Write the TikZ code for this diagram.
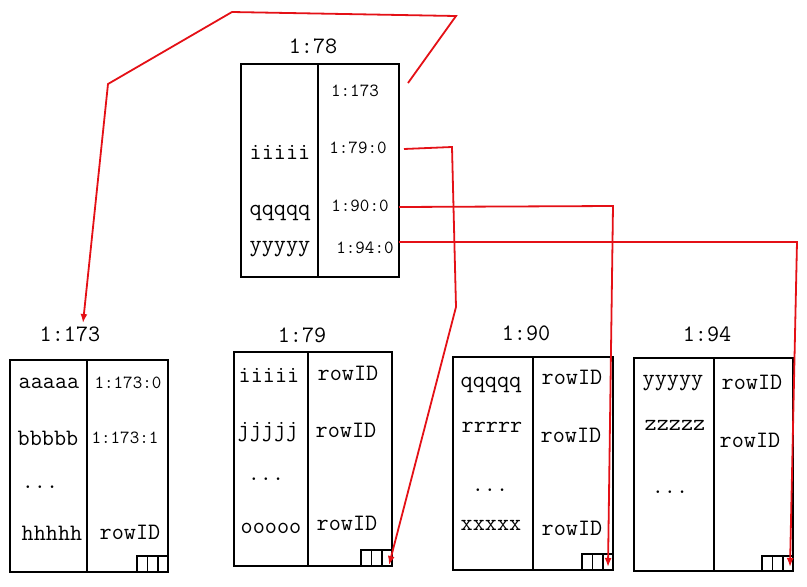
\documentclass[tikz,border=0pt]{standalone}
\usepackage{fontspec}
\usetikzlibrary{arrows.meta}
\definecolor{linkred}{RGB}{228,16,22}
\begin{document}
\begin{tikzpicture}[x=1pt,y=-1pt,
  box/.style={draw, line width=2pt, inner sep=0pt, outer sep=0pt, anchor=north west},
  divider/.style={line width=1.7pt},
  cell/.style={line width=1.7pt},
  big/.style={font=\ttfamily\fontsize{23.5}{25}\selectfont, inner sep=0pt},
  small/.style={font=\ttfamily\fontsize{18.5}{20}\selectfont, inner sep=0pt},
  link/.style={draw=linkred, line width=1.8pt, -{Latex[length=9pt,width=7pt]}, fill=none},
]
\useasboundingbox (0,0) rectangle (807,587);

% ---------- top page 1:78 ----------
\node[box, minimum width=158pt, minimum height=213pt] (b78) at (241,64) {};
\draw[divider] ([xshift=77pt]b78.north west) -- ([xshift=77pt]b78.south west);
\node[big] (lab78) at (313,46) {1:78};
\node[big] (k78a) at (280,152) {iiiii};
\node[big] (k78b) at (280,213) {qqqqq};
\node[big] (k78c) at (280,249) {yyyyy};
\node[small] (p78a) at (355,91) {1:173};
\node[small] (p78b) at (358,148) {1:79:0};
\node[small] (p78c) at (360,206) {1:90:0};
\node[small] (p78d) at (365,248) {1:94:0};

% ---------- page 1:173 ----------
\node[box, minimum width=158pt, minimum height=212pt] (b173) at (10,360) {};
\draw[divider] ([xshift=77pt]b173.north west) -- ([xshift=77pt]b173.south west);
\node[big] (lab173) at (70,334) {1:173};
\node[big] (k173a) at (49,383) {aaaaa};
\node[big] (k173b) at (48,438) {bbbbb};
\node[big] (k173c) at (40,487) {...};
\node[big] (k173d) at (52,533) {hhhhh};
\node[small] (p173a) at (128,383) {1:173:0};
\node[small] (p173b) at (125,438) {1:173:1};
\node[big] (p173c) at (130,532) {rowID};
\foreach \i in {0,1,2}
  \draw[cell] ([xshift=-\i*10.3pt]b173.south east) rectangle ++(-10.3,-16);

% ---------- page 1:79 ----------
\node[box, minimum width=158pt, minimum height=214pt] (b79) at (234,352) {};
\draw[divider] ([xshift=74pt]b79.north west) -- ([xshift=74pt]b79.south west);
\node[big] (lab79) at (302,335) {1:79};
\node[big] (k79a) at (269,375) {iiiii};
\node[big] (k79b) at (268,432) {jjjjj};
\node[big] (k79c) at (266,479) {...};
\node[big] (k79d) at (271,528) {ooooo};
\node[big] (p79a) at (348,373) {rowID};
\node[big] (p79b) at (346,430) {rowID};
\node[big] (p79c) at (347,523) {rowID};
\foreach \i in {0,1,2}
  \draw[cell] ([xshift=-\i*10.3pt]b79.south east) rectangle ++(-10.3,-16);

% ---------- page 1:90 ----------
\node[box, minimum width=160pt, minimum height=213pt] (b90) at (453,357) {};
\draw[divider] ([xshift=80pt]b90.north west) -- ([xshift=80pt]b90.south west);
\node[big] (lab90) at (526,333) {1:90};
\node[big] (k90a) at (491,385) {qqqqq};
\node[big] (k90b) at (492,427) {rrrrr};
\node[big] (k90c) at (490,490) {...};
\node[big] (k90d) at (491,525) {xxxxx};
\node[big] (p90a) at (572,377) {rowID};
\node[big] (p90b) at (571,435) {rowID};
\node[big] (p90c) at (572,528) {rowID};
\foreach \i in {0,1,2}
  \draw[cell] ([xshift=-\i*10.3pt]b90.south east) rectangle ++(-10.3,-16);

% ---------- page 1:94 ----------
\node[box, minimum width=159pt, minimum height=213pt] (b94) at (634,358) {};
\draw[divider] ([xshift=80pt]b94.north west) -- ([xshift=80pt]b94.south west);
\node[big] (lab94) at (707,334) {1:94};
\node[big] (k94a) at (673,383) {yyyyy};
\node[big] (k94b) at (675,425) {zzzzz};
\node[big] (k94c) at (670,492) {...};
\node[big] (p94a) at (752,382) {rowID};
\node[big] (p94b) at (750,440) {rowID};
\foreach \i in {0,1,2}
  \draw[cell] ([xshift=-\i*10.3pt]b94.south east) rectangle ++(-10.3,-15);

% ---------- pointer end points ----------
\coordinate (s1) at (408,83);
\coordinate (t1) at (83,323);
\coordinate (s2) at (404,149);
\coordinate (t2) at (389,565);
\coordinate (s3) at (399,207);
\coordinate (t3) at (608,567);
\coordinate (s4) at (399,242);
\coordinate (t4) at (790,567);

\draw[link] (s1) -- (456,16) -- (232,12) -- (108,84) -- (t1);
\draw[link] (s2) -- (452,147) -- (456,307) -- (t2);
\draw[link] (s3) -- (613,206) -- (t3);
\draw[link] (s4) -- (797,242) -- (t4);
\end{tikzpicture}
\end{document}
